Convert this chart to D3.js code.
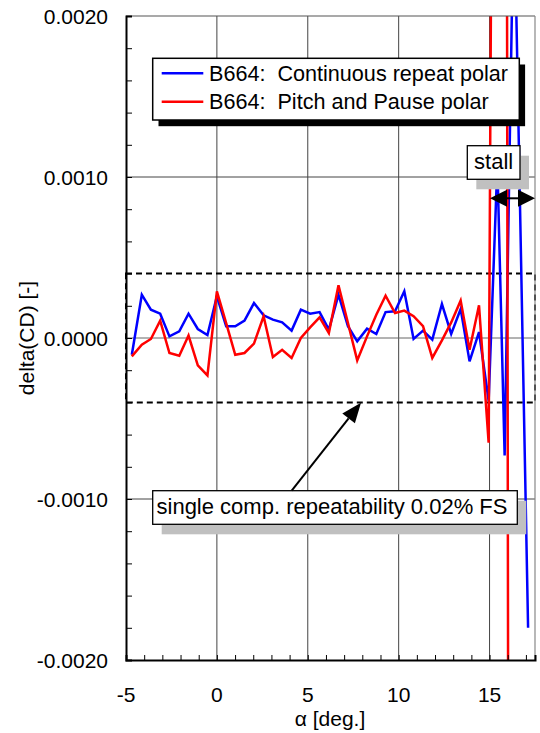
<!DOCTYPE html>
<html>
<head>
<meta charset="utf-8">
<script src="https://cdn.jsdelivr.net/npm/d3@7"></script>
<style>
  body { margin: 0; background: #fff; }
  text { font-family: "Liberation Sans", Arial, sans-serif; fill: #000; }
</style>
</head>
<body>
<div id="chart"></div>
<script>
// angle of attack (deg.) shared by both polars up to the stall
var alpha = [-4.68, -4.13, -3.63, -3.12, -2.61, -2.07, -1.56, -1.05, -0.52, 0.0,
             0.51, 1.01, 1.52, 2.04, 2.57, 3.08, 3.59, 4.11, 4.62, 5.13,
             5.65, 6.16, 6.69, 7.21, 7.72, 8.26, 8.77, 9.28, 9.80, 10.31,
             10.82, 11.34, 11.85, 12.38, 12.89, 13.41, 13.90, 14.42, 14.95];

// delta(CD), continuous repeat polar
var contCD = [-0.000104, 0.000269, 0.000176, 0.000151, 0.000010, 0.000041, 0.000151, 0.000056, 0.000019, 0.000259,
              0.000073, 0.000073, 0.000108, 0.000217, 0.000141, 0.000114, 0.000097, 0.000046, 0.000176, 0.000151,
              0.000161, 0.000052, 0.000269, 0.000073, -0.000021, 0.000058, 0.000025, 0.000161, 0.000166, 0.000290,
              -0.000006, 0.000046, -0.000010, 0.000211, 0.000025, 0.000180, -0.000145, 0.000037, -0.000390];
// post-stall points
var contAlphaStall = [15.43, 15.83, 16.34, 17.12];
var contCDStall = [0.00108, -0.00073, 0.0028, -0.0018];

// delta(CD), pitch and pause polar
var pauseCD = [-0.000114, -0.000041, -0.000006, 0.000108, -0.000093, -0.000110, 0.000015, -0.000170, -0.000232, 0.000290,
               0.000093, -0.000104, -0.000093, -0.000035, 0.000135, -0.000118, -0.000073, -0.000124, 0.000000, 0.000066,
               0.000128, 0.000031, 0.000327, 0.000093, -0.000139, 0.000010, 0.000145, 0.000263, 0.000155, 0.000170,
               0.000135, 0.000073, -0.000124, -0.000015, 0.000097, 0.000232, -0.000073, 0.000203, -0.000650];
var pauseAlphaStall = [15.76, 16.30];
var pauseCDStall = [0.0169, -0.0227];

var xTicks = [-5, 0, 5, 10, 15];
var yTicks = [-0.002, -0.001, 0, 0.001, 0.002];
var seriesNames = ["B664:  Continuous repeat polar", "B664:  Pitch and Pause polar"];
var seriesColors = ["#0000ff", "#ff0000"];

var width = 540,
    height = 733;
var pl = 126, pr = 535, pt = 16, pb = 660;

var svg = d3.select("#chart").append("svg")
    .attr("width", width)
    .attr("height", height);

svg.append("rect").attr("width", width).attr("height", height).attr("fill", "#fff");

var x = d3.scaleLinear().domain([-5, 17.5]).range([pl, pr]);
var y = d3.scaleLinear().domain([-0.002, 0.002]).range([pb, pt]);

// grid
svg.append("g").selectAll("line")
    .data(xTicks.slice(1))
  .enter().append("line")
    .attr("x1", function(d) { return x(d); })
    .attr("x2", function(d) { return x(d); })
    .attr("y1", pt).attr("y2", pb)
    .attr("stroke", "#444").attr("stroke-width", 1);

svg.append("g").selectAll("line")
    .data([-0.001, 0, 0.001])
  .enter().append("line")
    .attr("x1", pl).attr("x2", pr)
    .attr("y1", function(d) { return y(d); })
    .attr("y2", function(d) { return y(d); })
    .attr("stroke", function(d) { return d === 0 ? "#666" : "#444"; })
    .attr("stroke-width", 1);

// repeatability band
svg.append("rect")
    .attr("x", x(-5)).attr("y", y(0.0004))
    .attr("width", x(17.5) - x(-5))
    .attr("height", y(-0.0004) - y(0.0004))
    .attr("fill", "none")
    .attr("stroke", "#000").attr("stroke-width", 2)
    .attr("stroke-dasharray", "6,4");

// data
svg.append("clipPath").attr("id", "clip")
  .append("rect").attr("x", pl).attr("y", pt)
    .attr("width", pr - pl).attr("height", pb - pt);

var line = d3.line()
    .x(function(d) { return x(d[0]); })
    .y(function(d) { return y(d[1]); });

var contData = d3.zip(alpha.concat(contAlphaStall), contCD.concat(contCDStall));
var pauseData = d3.zip(alpha.concat(pauseAlphaStall), pauseCD.concat(pauseCDStall));

var plot = svg.append("g").attr("clip-path", "url(#clip)");
[contData, pauseData].forEach(function(data, i) {
  plot.append("path")
      .datum(data)
      .attr("d", line)
      .attr("fill", "none")
      .attr("stroke", seriesColors[i])
      .attr("stroke-width", 2.5);
});

// frame
svg.append("line").attr("x1", pl).attr("x2", pr).attr("y1", pt).attr("y2", pt)
    .attr("stroke", "#555").attr("stroke-width", 1.2);
svg.append("line").attr("x1", pr).attr("x2", pr).attr("y1", pt).attr("y2", pb)
    .attr("stroke", "#888").attr("stroke-width", 1.2);

// minor ticks
svg.append("g")
    .attr("transform", "translate(" + pl + ",0)")
    .call(d3.axisLeft(y).tickValues(d3.range(-20, 21, 2).map(function(d) { return d / 10000; }))
      .tickSize(-6).tickFormat(""))
    .call(function(g) { g.select(".domain").attr("stroke-width", 2); });

svg.append("g")
    .attr("transform", "translate(0," + pb + ")")
    .call(d3.axisBottom(x).tickValues(d3.range(-5, 18, 1))
      .tickSize(-5).tickFormat(""))
    .call(function(g) { g.select(".domain").attr("stroke-width", 2); });

// tick labels
svg.append("g").selectAll("text")
    .data(yTicks)
  .enter().append("text")
    .attr("x", 108)
    .attr("y", function(d) { return y(d); })
    .attr("dy", "0.36em")
    .attr("text-anchor", "end")
    .style("font-size", "21px")
    .text(function(d) { return d.toFixed(4); });

svg.append("g").selectAll("text")
    .data(xTicks)
  .enter().append("text")
    .attr("x", function(d) { return x(d); })
    .attr("y", 702)
    .attr("text-anchor", "middle")
    .style("font-size", "21px")
    .text(function(d) { return d; });

svg.append("text")
    .attr("x", 330).attr("y", 726)
    .attr("text-anchor", "middle")
    .style("font-size", "21px")
    .text("\u03b1 [deg.]");

svg.append("text")
    .attr("transform", "translate(34,338) rotate(-90)")
    .attr("text-anchor", "middle")
    .style("font-size", "21px")
    .text("delta(CD) [-]");

// legend
var legend = svg.append("g");
legend.append("rect")
    .attr("x", 158.5).attr("y", 64.5).attr("width", 366.6).attr("height", 61.7)
    .attr("fill", "#000");
legend.append("rect")
    .attr("x", 152.7).attr("y", 58.3).attr("width", 366.6).attr("height", 61.7)
    .attr("fill", "#fff").attr("stroke", "#000").attr("stroke-width", 1.5);
seriesNames.forEach(function(name, i) {
  var ly = 73.3 + i * 28.4;
  legend.append("line")
      .attr("x1", 161.7).attr("x2", 203.3)
      .attr("y1", ly).attr("y2", ly)
      .attr("stroke", seriesColors[i]).attr("stroke-width", 2.5);
  legend.append("text")
      .attr("x", 209).attr("y", ly)
      .attr("dy", "0.36em")
      .style("font-size", "21.6px")
      .style("white-space", "pre")
      .attr("xml:space", "preserve")
      .text(name);
});

// boxed notes with grey shadow
function noteBox(x0, y0, w, h, label, tx, ty) {
  svg.append("rect")
      .attr("x", x0 + 9).attr("y", y0 + 10).attr("width", w).attr("height", h)
      .attr("fill", "#c0c0c0");
  svg.append("rect")
      .attr("x", x0).attr("y", y0).attr("width", w).attr("height", h)
      .attr("fill", "#fff").attr("stroke", "#000").attr("stroke-width", 1.3);
  svg.append("text")
      .attr("x", tx).attr("y", ty)
      .attr("dy", "0.36em")
      .attr("text-anchor", "middle")
      .style("font-size", "22px")
      .text(label);
}

noteBox(467.3, 145.7, 52.7, 33.6, "stall", 493.6, 161.5);

var ay = 198.3;
svg.append("line").attr("x1", 500).attr("x2", 525).attr("y1", ay).attr("y2", ay)
    .attr("stroke", "#000").attr("stroke-width", 2);
svg.append("path")
    .attr("d", "M490," + ay + "L507," + (ay - 8.5) + "L507," + (ay + 8.5) + "Z")
    .attr("fill", "#000");
svg.append("path")
    .attr("d", "M535," + ay + "L518," + (ay - 8.5) + "L518," + (ay + 8.5) + "Z")
    .attr("fill", "#000");

// repeatability note and arrow
noteBox(152.7, 490.7, 364.6, 33.6, "single comp. repeatability 0.02% FS", 332, 506.5);

var p0 = [291.7, 490.7], p1 = [361, 402.7];
var dx = p1[0] - p0[0], dy = p1[1] - p0[1], len = Math.sqrt(dx * dx + dy * dy);
var ux = dx / len, uy = dy / len;
var bx = p1[0] - 20 * ux, by = p1[1] - 20 * uy;
svg.append("line")
    .attr("x1", p0[0]).attr("y1", p0[1]).attr("x2", bx).attr("y2", by)
    .attr("stroke", "#000").attr("stroke-width", 2);
svg.append("path")
    .attr("d", "M" + p1[0] + "," + p1[1] +
               "L" + (bx - 8 * uy) + "," + (by + 8 * ux) +
               "L" + (bx + 8 * uy) + "," + (by - 8 * ux) + "Z")
    .attr("fill", "#000");
</script>
</body>
</html>
